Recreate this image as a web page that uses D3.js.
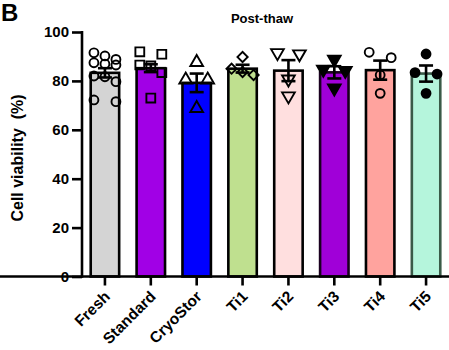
<!DOCTYPE html>
<html>
<head>
<meta charset="utf-8">
<script src="https://cdn.jsdelivr.net/npm/d3@7"></script>
<style>
	body{margin:0;background:#fff;}
	svg text{font-family:"Liberation Sans", Arial, sans-serif;font-weight:bold;fill:#000;}
</style>
</head>
<body>
<svg id="Canvas" width="449" height="350"></svg>
<script>
	var groups = ["Fresh", "Standard", "CryoStor", "Ti1", "Ti2", "Ti3", "Ti4", "Ti5"];
	var means = [83.3, 85.2, 79.2, 85.0, 84.2, 83.5, 84.4, 83.0];
	var sems = [1.9, 1.6, 3.8, 1.6, 4.3, 2.5, 3.9, 3.3];

	// individual replicates per group
	var fresh = [91.5, 90.2, 88.8, 87.4, 86.9, 86.5, 82.0, 81.7, 79.7, 72.2, 71.5];
	var standard = [91.9, 90.9, 86.5, 86.1, 83.4, 73.0];
	var cryoStor = [87.6, 80.4, 80.4, 68.8];
	var ti1 = [89.8, 85.0, 83.6, 82.4];
	var ti2 = [91.5, 91.0, 80.7, 73.8];
	var ti3 = [88.8, 84.7, 84.2, 77.0];
	var ti4 = [91.7, 89.5, 82.4, 74.9];
	var ti5 = [91.0, 83.4, 82.8, 74.9];
	var points = [fresh, standard, cryoStor, ti1, ti2, ti3, ti4, ti5];

	var yTicks = [0, 20, 40, 60, 80, 100];

	var barColors = [
		"#d4d4d4", // fresh
		"#a100e6", // standard
		"#0000ff", // cryostor
		"#bfe08f", // ti1
		"#ffdfdf", // ti2
		"#a000d8", // ti3
		"#ffa39e", // ti4
		"#b5f5dc"  // ti5
	];
	var barStrokes = ["#000", "#000", "#000", "#000", "#000", "#1a001f", "#000", "#3a5a48"];
	// symbol type, filled?, rotation
	var markers = [
		{type: d3.symbolCircle, filled: false, rot: 0, size: 62},
		{type: d3.symbolSquare, filled: false, rot: 0, size: 78},
		{type: d3.symbolTriangle, filled: false, rot: 0, size: 70},
		{type: d3.symbolSquare, filled: false, rot: 45, size: 52},
		{type: d3.symbolTriangle, filled: false, rot: 180, size: 70},
		{type: d3.symbolTriangle, filled: true, rot: 180, size: 70},
		{type: d3.symbolCircle, filled: false, rot: 0, size: 62},
		{type: d3.symbolCircle, filled: true, rot: 0, size: 62}
	];

	var svg = d3.select("#Canvas");

	var x = d3.scaleBand().domain(groups).range([82, 449]).paddingInner(0.38).paddingOuter(0.19);
	var y = d3.scaleLinear().domain([0, 100]).range([276.5, 32]);

	DrawBars();
	DrawErrorBars();
	DrawPoints();
	DrawAxes();
	DrawText();

	/*
	 * Bars (mean)
	 */
	function DrawBars(){
		svg.append("g").selectAll("rect").data(groups).enter()
			.append("rect")
			.attr("x", function(d){ return x(d); })
			.attr("y", function(d, i){ return y(means[i]); })
			.attr("width", x.bandwidth())
			.attr("height", function(d, i){ return y(0) - y(means[i]); })
			.style("fill", function(d, i){ return barColors[i]; })
			.style("stroke", function(d, i){ return barStrokes[i]; })
			.style("stroke-width", 2.6);
	}

	/*
	 * Error bars (SEM)
	 */
	function DrawErrorBars(){
		var cap = 7;
		var g = svg.append("g").style("stroke", "#000").style("stroke-width", 2.6).style("fill", "none");
		groups.forEach(function(d, i){
			var cx = x(d) + x.bandwidth() / 2,
				top = y(means[i] + sems[i]),
				bot = y(means[i] - sems[i]);
			g.append("line").attr("x1", cx).attr("x2", cx).attr("y1", top).attr("y2", bot);
			g.append("line").attr("x1", cx - cap).attr("x2", cx + cap).attr("y1", top).attr("y2", top);
			g.append("line").attr("x1", cx - cap).attr("x2", cx + cap).attr("y1", bot).attr("y2", bot);
		});
	}

	/*
	 * Spread replicates that sit on the same level into a row
	 */
	function RowOffsets(values){
		var sorted = values.slice().sort(function(a, b){ return b - a; });
		var rows = [], out = [];
		sorted.forEach(function(v){
			var last = rows[rows.length - 1];
			if(last && last[0] - v < 3.5){ last.push(v); }
			else{ rows.push([v]); }
		});
		rows.forEach(function(row){
			var n = row.length;
			row.forEach(function(v, k){
				var off = n == 1 ? 0 : (n <= 3 ? -11 + k * 22 / (n - 1) : (k - (n - 1) / 2) * 11);
				out.push({v: v, dx: off});
			});
		});
		return out;
	}

	function DrawPoints(){
		var g = svg.append("g");
		points.forEach(function(vals, i){
			var m = markers[i],
				cx = x(groups[i]) + x.bandwidth() / 2,
				sym = d3.symbol().type(m.type).size(m.size);
			g.selectAll(".p" + i).data(RowOffsets(vals)).enter()
				.append("path")
				.attr("d", sym)
				.attr("transform", function(d){
					return "translate(" + (cx + d.dx) + "," + y(d.v) + ") rotate(" + m.rot + ")";
				})
				.style("fill", m.filled ? "#000" : "none")
				.style("stroke", "#000")
				.style("stroke-width", 1.9);
		});
	}

	function DrawAxes(){
		var yAxis = svg.append("g").attr("transform", "translate(82,0)")
			.call(d3.axisLeft(y).tickValues(yTicks).tickSize(10).tickPadding(3));
		var xAxis = svg.append("g").attr("transform", "translate(0," + y(0) + ")")
			.call(d3.axisBottom(x).tickSize(9).tickFormat(""));

		[yAxis, xAxis].forEach(function(a){
			a.select(".domain").style("stroke", "#000").style("stroke-width", 2.6);
			a.selectAll(".tick line").style("stroke", "#000").style("stroke-width", 2.6);
		});
		yAxis.select(".domain").attr("d", "M0," + (y(100) - 1) + "V" + (y(0) + 1.3));
		xAxis.select(".domain").attr("d", "M-1.3,0H449");
		yAxis.selectAll(".tick text").style("font-size", "15px").style("font-family", "Liberation Sans, Arial, sans-serif");

		// rotated category labels
		svg.append("g").selectAll("text").data(groups).enter()
			.append("text")
			.attr("text-anchor", "end")
			.attr("transform", function(d){
				return "translate(" + (x(d) + x.bandwidth() / 2 + 6) + "," + (y(0) + 21) + ") rotate(-45)";
			})
			.style("font-size", "15.5px")
			.text(function(d){ return d; });
	}

	function DrawText(){
		svg.append("text").attr("x", 1).attr("y", 21).style("font-size", "24px").text("B");
		svg.append("text").attr("x", 262).attr("y", 23).attr("text-anchor", "middle")
			.style("font-size", "13px").text("Post-thaw");
		svg.append("text")
			.attr("transform", "translate(23,158) rotate(-90)")
			.attr("text-anchor", "middle")
			.style("font-size", "16px")
			.style("white-space", "pre")
			.text("Cell viability  (%)");
	}
</script>
</body>
</html>
